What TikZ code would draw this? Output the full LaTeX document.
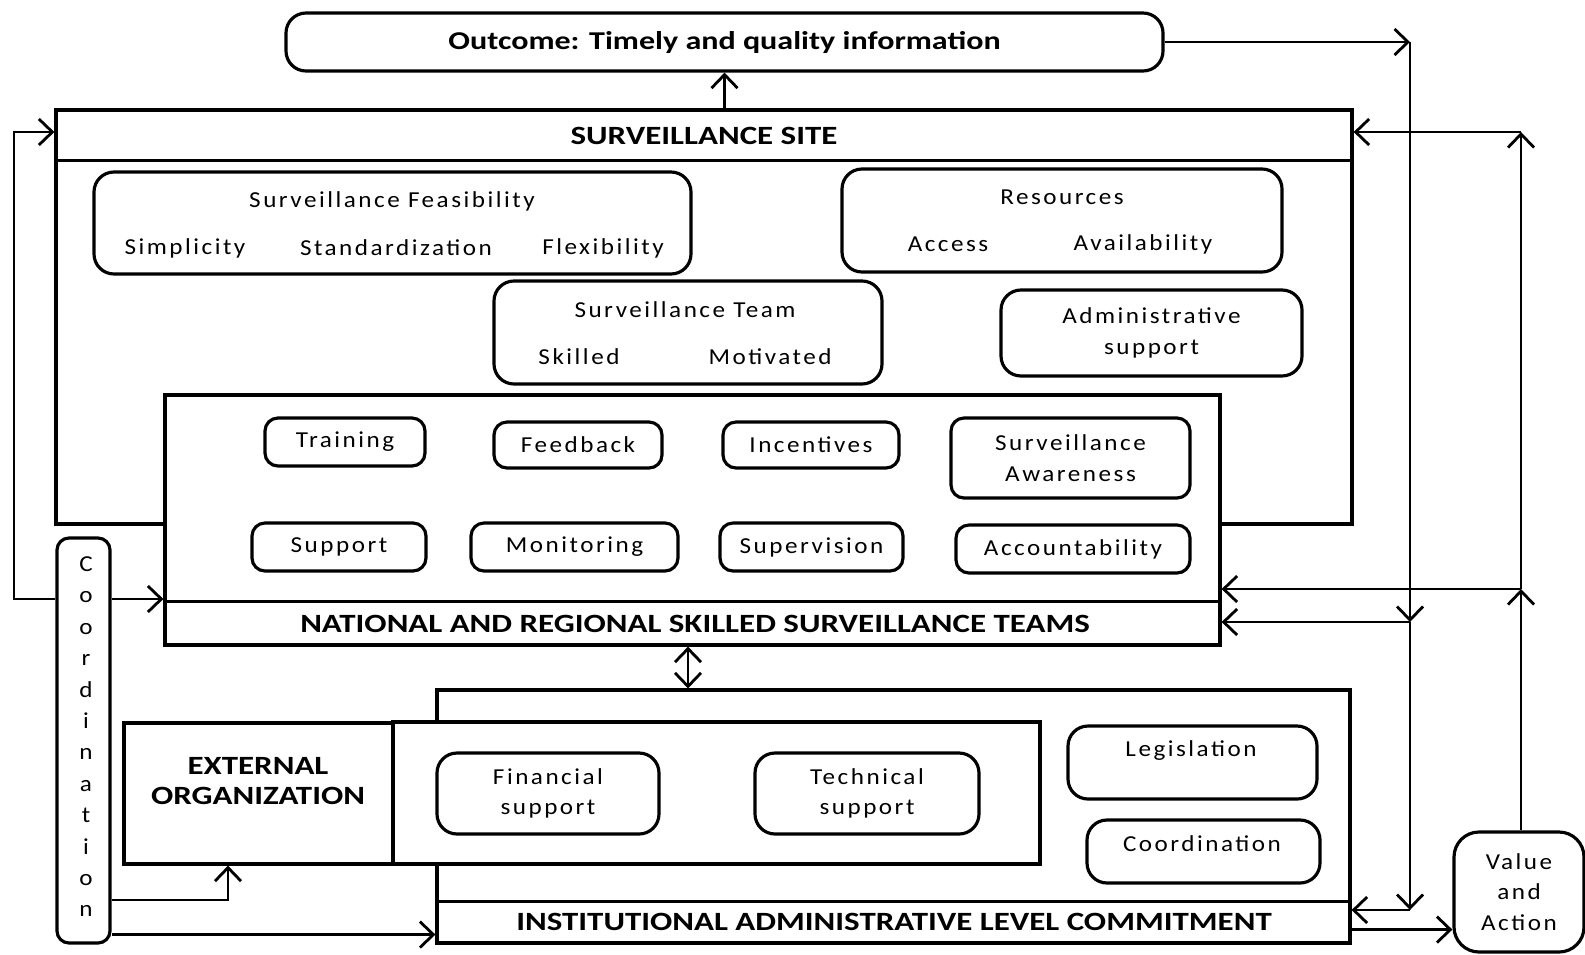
\documentclass[tikz,border=0pt]{standalone}
\usepackage{fontspec}
\setmainfont{Carlito}
\newfontfamily\spaced[LetterSpace=11,FakeStretch=1.1]{Carlito}
\newfontfamily\headfont[FakeStretch=1.25]{Carlito}
\usetikzlibrary{arrows.meta,positioning,calc}
\tikzset{
  >={Straight Barb[length=2.7mm,width=5.2mm]},
  dims/.style 2 args={minimum width=#1*0.02cm,minimum height=#2*0.02cm},
  frame/.style={draw,line width=1.8pt,fill=white,inner sep=0pt},
  pill/.style={frame,rounded corners=4mm},
  item/.style={frame,rounded corners=2.6mm,font=\spaced\fontsize{13}{17.5}\selectfont,align=center},
  head/.style={font=\headfont\bfseries\fontsize{15}{17.6}\selectfont,align=center},
  txt/.style={font=\spaced\fontsize{13}{17.5}\selectfont},
  arr/.style={->,line width=1.6pt},
  link/.style={line width=1.6pt}
}
\begin{document}
\begin{tikzpicture}[x=0.02cm,y=-0.02cm]
  \useasboundingbox (0,0) rectangle (1585,954);

  % outcome and surveillance site
  \node[pill,dims={877}{58},font=\headfont\bfseries\fontsize{14.6}{17}\selectfont] (out) at (724.5,42) {Outcome: Timely and quality information};
  \node[frame,dims={1296}{414}] (site) at (704,317) {};
  \draw[link] ([yshift=-1.04cm]site.north west) -- ([yshift=-1.04cm]site.north east);
  \node[head] (siteT) at (704,136) {SURVEILLANCE SITE};

  \node[item,rounded corners=4mm,dims={597}{102}] (feas) at (392.5,223) {};
  \node[txt] (feasT) at (392,201) {Surveillance Feasibility};
  \node[txt] (simp) at (185,248) {Simplicity};
  \node[txt] (stand) at (396,248) {Standardization};
  \node[txt] (flex) at (603,248) {Flexibility};

  \node[item,rounded corners=4mm,dims={440}{103}] (res) at (1062,220.5) {};
  \node[txt] (resT) at (1062,197) {Resources};
  \node[txt] (acc) at (948,244) {Access};
  \node[txt] (avail) at (1143,244) {Availability};

  \node[item,rounded corners=4mm,dims={388}{103}] (team) at (688,332.5) {};
  \node[txt] (teamT) at (685,310) {Surveillance Team};
  \node[txt] (skill) at (579,357) {Skilled};
  \node[txt] (motiv) at (770,357) {Motivated};

  \node[item,rounded corners=4mm,dims={301}{86}] (admin) at (1151.5,333) {Administrative\\support};

  % national and regional teams
  \node[frame,dims={1055}{250}] (nat) at (692.5,520) {};
  \draw[link] ([yshift=0.9cm]nat.south west) -- ([yshift=0.9cm]nat.south east);
  \node[head] (natT) at (695,624) {NATIONAL AND REGIONAL SKILLED SURVEILLANCE TEAMS};

  \node[item,dims={160}{48}] (train) at (345,442) {Training};
  \node[item,dims={168}{46}] (feed) at (578,445) {Feedback};
  \node[item,dims={176}{46}] (incent) at (811,445) {Incentives};
  \node[item,dims={239}{80}] (aware) at (1070.5,458) {Surveillance\\Awareness};
  \node[item,dims={174}{48}] (supp) at (339,547) {Support};
  \node[item,dims={207}{48}] (monit) at (574.5,547) {Monitoring};
  \node[item,dims={183}{48}] (superv) at (811.5,547) {Supervision};
  \node[item,dims={234}{48}] (account) at (1073,549) {Accountability};

  % institutional level
  \node[frame,dims={913}{253}] (inst) at (893.5,816.5) {};
  \draw[link] ([yshift=0.86cm]inst.south west) -- ([yshift=0.86cm]inst.south east);
  \node[head] (instT) at (894,922) {INSTITUTIONAL ADMINISTRATIVE LEVEL COMMITMENT};
  \node[frame,dims={647}{142}] (cont) at (716.5,793) {};
  \node[frame,dims={269}{141}] (ext) at (258.5,793.5) {};
  \node[head] (extT) at (258,781) {EXTERNAL\\ORGANIZATION};
  \node[item,rounded corners=4mm,dims={222}{81}] (fin) at (548,793.5) {Financial\\support};
  \node[item,rounded corners=4mm,dims={224}{81}] (tech) at (867,793.5) {Technical\\support};
  \node[item,rounded corners=4mm,dims={249}{73}] (legis) at (1192.5,762.5) {};
  \node[txt] (legisT) at (1191,751) {Legislation};
  \node[item,rounded corners=4mm,dims={233}{63}] (coor) at (1203.5,851.5) {};
  \node[txt] (coorT) at (1202,844) {Coordination};

  % side boxes
  \node[frame,rounded corners=2.4mm,dims={53}{405}] (coord) at (83.5,740.5) {};
  \foreach \ch [count=\k] in {C,o,o,r,d,i,n,a,t,i,o,n}
    \node[txt,anchor=base] at (86,{540+31.4*\k}) {\ch};
  \node[item,rounded corners=5mm,dims={130}{120}] (val) at (1519,892) {Value\\and\\Action};

  % connectors
  \coordinate (r1) at (1410,42);
  \coordinate (r2) at (1410,622);
  \coordinate (r3) at (1410,910);
  \coordinate (v1) at (1521,132);
  \coordinate (v2) at (1521,589);
  \coordinate (l1) at (14,599);
  \coordinate (l2) at (14,132);
  \coordinate (c1) at (228,900);
  \coordinate (m1) at (688,0);

  \draw[arr] (out.south |- site.north) -- (out.south);
  \draw[arr] (out.east) -- (r1);
  \draw[arr] (r1) -- (r2);
  \draw[arr] (r2) -- (r2 -| nat.east);
  \draw[arr] (r2) -- (r3);
  \draw[arr] (r3) -- (r3 -| inst.east);
  \draw[arr] (val.north -| v1) -- (v2);
  \draw[arr] (v2) -- (v1);
  \draw[arr] (v1) -- (v1 -| site.east);
  \draw[arr] (v2) -- (v2 -| nat.east);
  \draw[arr] ([yshift=0.3cm]inst.south east) coordinate (i1) -- (i1 -| val.west);
  \draw[arr] (coord.west |- l1) -- (l1) -- (l2) -- (l2 -| site.west);
  \draw[arr] (coord.east |- l1) -- (l1 -| nat.west);
  \draw[arr] (coord.east |- c1) -- (c1) -- (c1 |- ext.south);
  \draw[arr] ([yshift=0.2cm]coord.south east) coordinate (c2) -- (c2 -| inst.west);
  \draw[<->,line width=1.6pt] (nat.south -| m1) -- (inst.north -| m1);
\end{tikzpicture}
\end{document}
